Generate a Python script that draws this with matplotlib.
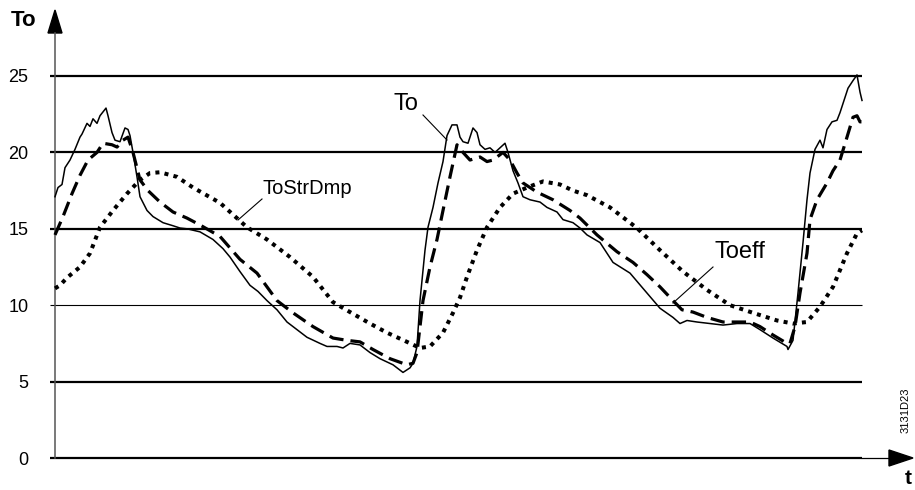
import matplotlib
matplotlib.use("Agg")
import matplotlib.pyplot as plt
from matplotlib.patches import Polygon

plt.rcParams['font.family'] = ['Liberation Sans', 'DejaVu Sans']

# time axis in arbitrary units (0 .. 807), temperature in degC
to_t = [0, 3, 7, 10, 15, 20, 25, 27, 32, 35, 38, 42, 45, 51, 53, 57, 60, 65, 70, 73, 75,
        78, 82, 85, 92, 98, 108, 118, 125, 132, 145, 158, 168, 175, 185, 195, 203, 212,
        222, 232, 242, 252, 265, 272, 282, 288, 295, 305, 315, 325, 338, 348, 355, 358,
        362, 365, 370, 373, 378, 383, 388, 392, 397, 402, 405, 408, 413, 418, 422, 425,
        430, 435, 440, 445, 450, 453, 458, 463, 468, 475, 485, 492, 502, 508, 518, 525,
        532, 545, 558, 575, 588, 605, 618, 625, 632, 642, 655, 668, 682, 695, 705, 718,
        732, 733, 738, 743, 748, 752, 755, 760, 765, 768, 772, 777, 782, 785, 790, 793,
        798, 802, 805, 807]
to_val = [17.1, 17.7, 17.9, 19.0, 19.5, 20.2, 21.0, 21.2, 21.9, 21.7, 22.2, 21.9, 22.4,
          22.9, 22.4, 21.3, 20.8, 20.7, 21.6, 21.5, 21.1, 20.0, 18.4, 17.1, 16.2, 15.8,
          15.4, 15.2, 15.05, 15.0, 14.8, 14.3, 13.7, 13.15, 12.2, 11.3, 10.9, 10.3, 9.7,
          8.9, 8.4, 7.9, 7.5, 7.3, 7.3, 7.2, 7.5, 7.4, 6.9, 6.5, 6.1, 5.6, 5.9, 6.2, 7.3,
          10.3, 13.6, 15.1, 16.4, 18.0, 19.4, 21.1, 21.8, 21.8, 21.0, 20.7, 20.6, 21.6,
          21.3, 20.5, 20.2, 20.3, 20.0, 20.3, 20.6, 20.0, 18.8, 18.0, 17.1, 16.9, 16.75,
          16.4, 16.1, 15.6, 15.4, 15.05, 14.6, 14.1, 12.8, 12.1, 11.1, 9.8, 9.2, 8.8, 9.0,
          8.9, 8.8, 8.7, 8.8, 8.8, 8.4, 7.85, 7.3, 7.1, 7.7, 10.8, 14.1, 16.9, 18.65, 20.2,
          20.8, 20.3, 21.5, 22.0, 22.1, 22.6, 23.6, 24.2, 24.7, 25.07, 23.95, 23.4]

toeff_t = [0, 8, 17, 25, 33, 42, 48, 57, 62, 68, 73, 78, 85, 93, 105, 118, 132, 145, 165,
           185, 202, 222, 238, 258, 278, 292, 305, 318, 335, 352, 358, 362, 368, 375, 382,
           388, 395, 402, 408, 415, 425, 432, 438, 448, 455, 462, 468, 482, 498, 515, 525,
           542, 562, 578, 592, 605, 618, 627, 638, 652, 668, 682, 695, 705, 718, 732, 735,
           740, 745, 752, 755, 762, 772, 778, 785, 792, 798, 802, 805, 807]
toeff_val = [14.6, 15.8, 17.3, 18.5, 19.5, 20.0, 20.6, 20.5, 20.35, 20.8, 21.0, 20.0, 18.2,
             17.5, 16.75, 16.1, 15.7, 15.25, 14.5, 13.0, 12.1, 10.3, 9.5, 8.6, 7.85, 7.7,
             7.6, 7.1, 6.5, 6.1, 6.2, 6.9, 10.3, 12.5, 14.3, 16.2, 18.4, 20.5, 20.0, 19.5,
             19.7, 19.4, 19.5, 20.0, 19.5, 18.65, 18.0, 17.4, 16.9, 16.2, 15.7, 14.6, 13.5,
             12.8, 12.0, 11.2, 10.3, 9.7, 9.55, 9.2, 8.9, 8.9, 8.9, 8.6, 8.05, 7.5, 7.5, 8.6,
             10.8, 13.4, 15.6, 16.9, 18.0, 18.8, 19.5, 21.0, 22.3, 22.4, 22.0, 22.0]

tostr_t = [0, 5, 12, 25, 35, 45, 58, 72, 85, 95, 105, 122, 138, 165, 192, 212, 235, 258,
           278, 295, 315, 332, 352, 365, 375, 388, 398, 405, 412, 422, 432, 445, 458, 472,
           488, 505, 518, 532, 555, 582, 605, 628, 652, 675, 698, 722, 738, 752, 765, 778,
           792, 802, 807]
tostr_val = [11.1, 11.3, 11.8, 12.5, 13.4, 15.1, 16.2, 17.3, 18.2, 18.65, 18.7, 18.4, 17.7,
             16.7, 15.1, 14.3, 13.15, 11.85, 10.2, 9.55, 8.8, 8.2, 7.6, 7.2, 7.3, 8.2, 9.5,
             10.5, 11.85, 13.6, 15.1, 16.4, 17.3, 17.7, 18.1, 17.9, 17.5, 17.2, 16.4, 15.05,
             13.6, 12.2, 11.0, 10.0, 9.5, 9.0, 8.8, 8.9, 9.9, 11.2, 13.4, 14.7, 14.9]

y_ticks = [0, 5, 10, 15, 20, 25]

W, H = 915, 490
fig = plt.figure(figsize=(W / 100, H / 100), dpi=100)
# axes placed so that 1 time unit = 1 px, 0..25 degC spans px 458..76
ax = fig.add_axes([55 / W, (H - 458) / H, 807 / W, (458 - 76) / H])
ax.set_xlim(0, 807)
ax.set_ylim(0, 25)
for s in ax.spines.values():
    s.set_visible(False)
ax.set_xticks([])
ax.set_yticks(y_ticks)
ax.tick_params(axis='y', length=0, pad=19, labelsize=13)

py = 25 / 382.0  # degC per pixel

# horizontal grid lines
for v in y_ticks:
    lw = 0.8 if v == 10 else 1.6
    ax.plot([-5, 807], [v, v], color='black', lw=lw, clip_on=False, solid_capstyle='butt')

# axes with arrows
ax.plot([0, 0], [0, 425 * py], color='#555555', lw=1.1, clip_on=False)
ax.add_patch(Polygon([[-7, 425 * py], [7, 425 * py], [0, 448 * py]], closed=True,
                     color='black', clip_on=False))
ax.plot([807, 834], [0, 0], color='black', lw=0.9, clip_on=False)
ax.add_patch(Polygon([[834, -8 * py], [834, 8 * py], [858, 0]], closed=True,
                     color='black', clip_on=False))

# curves
ax.plot(tostr_t, tostr_val, color='black', lw=2.9, linestyle=(0, (1, 1.3)),
        dash_capstyle='butt', clip_on=False)
ax.plot(toeff_t, toeff_val, color='black', lw=2.3, linestyle=(0, (4.5, 2.2)),
        dash_capstyle='butt', clip_on=False)
ax.plot(to_t, to_val, color='black', lw=1.1, clip_on=False)

# labels with leader lines
ax.text(406 - 55, (458 - 104) * py, 'To', fontsize=17, ha='center', va='center')
ax.plot([423 - 55, 447 - 55], [(458 - 115) * py, (458 - 140) * py], color='black', lw=0.8)
ax.text(307 - 55, (458 - 188) * py, 'ToStrDmp', fontsize=14.5, ha='center', va='center')
ax.plot([262 - 55, 238 - 55], [(458 - 199) * py, (458 - 220) * py], color='black', lw=0.8)
ax.text(740 - 55, (458 - 252) * py, 'Toeff', fontsize=17, ha='center', va='center')
ax.plot([713 - 55, 673 - 55], [(458 - 267) * py, (458 - 303) * py], color='black', lw=0.8)

fig.text(24 / W, 1 - 21 / H, 'To', fontsize=16, fontweight='bold', ha='center', va='center')
fig.text(908 / W, 1 - 478 / H, 't', fontsize=15, fontweight='bold', ha='center', va='center')
fig.text(906 / W, 1 - 410 / H, '3131D23', fontsize=8, rotation=90, ha='center', va='center')

fig.savefig('out.png', dpi=100)
